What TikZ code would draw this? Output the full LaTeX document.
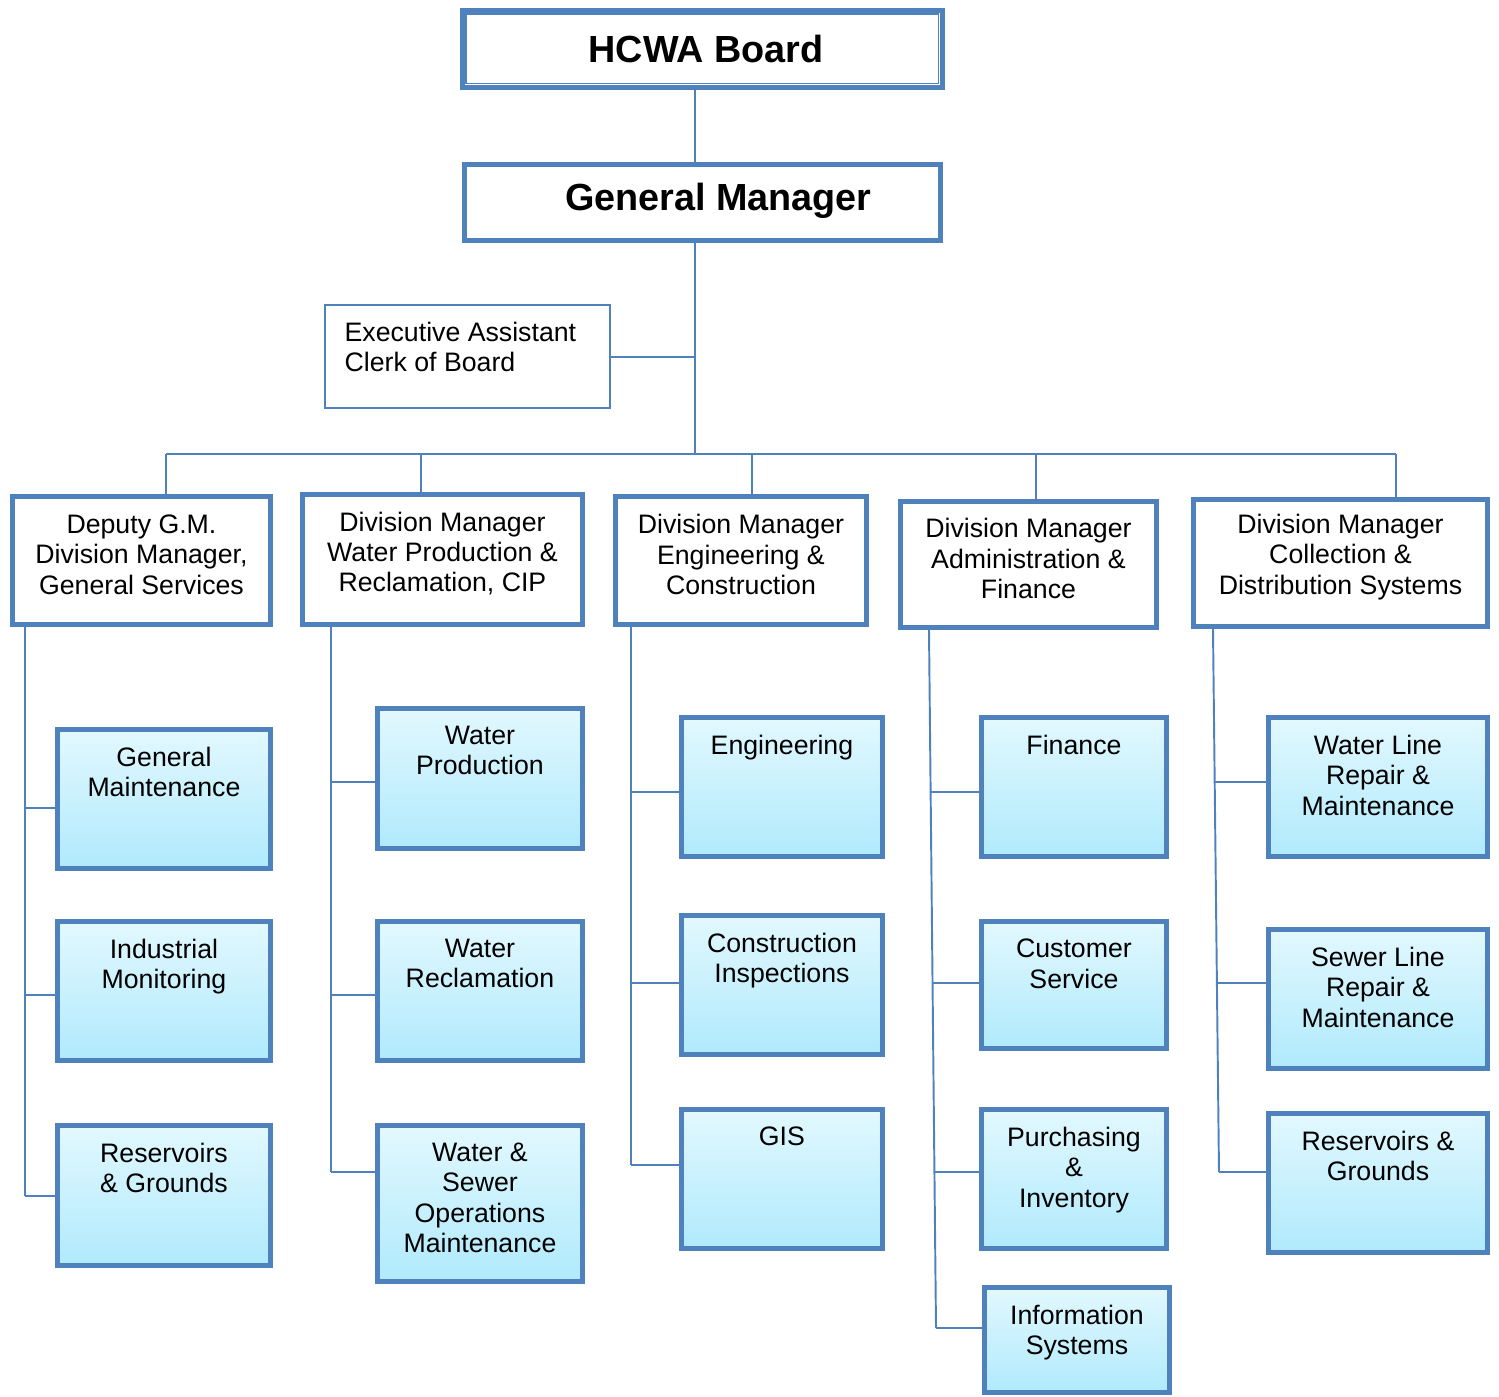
\documentclass[tikz,border=0pt]{standalone}
\usepackage{fontspec}
\setmainfont{Liberation Sans}
\definecolor{boxblue}{RGB}{79,129,189}
\definecolor{leaftop}{RGB}{226,248,254}
\definecolor{leafbot}{RGB}{176,234,252}

\begin{document}
\begin{tikzpicture}[x=0.02cm,y=-0.02cm,
    boxsize/.style 2 args={minimum width=(#1-5)*0.02cm,minimum height=(#2-5)*0.02cm},
    link/.style={draw=boxblue,line width=1.1pt},
    head/.style={draw=boxblue,line width=2.8pt,fill=white,anchor=north west},
    headtext/.style={anchor=center,font=\bfseries\fontsize{21.5}{25}\selectfont},
    manager/.style={draw=boxblue,line width=2.8pt,fill=white,anchor=north west},
    mantext/.style={anchor=center,align=center,yshift=3.4pt,
      font=\fontsize{15.2}{17.3}\selectfont},
    leaf/.style={draw=boxblue,line width=2.8pt,top color=leaftop,bottom color=leafbot,
      anchor=north west},
    caption/.style={anchor=north,align=center,yshift=-7.9pt,
      font=\fontsize{15.2}{17.3}\selectfont}]
  \useasboundingbox (0,0) rectangle (1499,1397);

  % top of the chart
  \node[head,boxsize={485}{82},label={[headtext,xshift=2pt]center:HCWA Board}] (board) at (460,8) {};
  \draw[boxblue,line width=0.6pt] ([shift={(6,6)}]board.north west)
    rectangle ([shift={(-6,-6)}]board.south east);
  \node[head,boxsize={481}{81},label={[headtext,xshift=9pt,yshift=1pt]center:General Manager}] (gm) at (462,162) {};
  \node[draw=boxblue,line width=1.2pt,anchor=north west,boxsize={290}{108},
    label={[anchor=north west,align=left,xshift=8.2pt,yshift=-6.7pt,
      font=\fontsize{15.2}{17.3}\selectfont]north west:Executive Assistant\\Clerk of Board}]
    (exec) at (324,304) {};

  % division managers
  \node[manager,boxsize={263}{133},
    label={[mantext]center:Deputy G.M.\\Division Manager,\\General Services}] (deputy) at (10,494) {};
  \node[manager,boxsize={285}{135},
    label={[mantext]center:Division Manager\\Water Production \&\\Reclamation, CIP}] (dmwater) at (300,492) {};
  \node[manager,boxsize={256}{133},
    label={[mantext]center:Division Manager\\Engineering \&\\Construction}] (dmeng) at (613,494) {};
  \node[manager,boxsize={261}{131},
    label={[mantext]center:Division Manager\\Administration \&\\Finance}] (dmadmin) at (898,499) {};
  \node[manager,boxsize={299}{132},
    label={[mantext]center:Division Manager\\Collection \&\\Distribution Systems}] (dmcoll) at (1191,497) {};

  % units
  \node[leaf,boxsize={218}{144},label={[caption]north:General\\Maintenance}] (genmaint) at (55,727) {};
  \node[leaf,boxsize={218}{144},label={[caption]north:Industrial\\Monitoring}] (indmon) at (55,919) {};
  \node[leaf,boxsize={218}{145},label={[caption]north:Reservoirs\\\& Grounds}] (resvA) at (55,1123) {};
  \node[leaf,boxsize={210}{145},label={[caption]north:Water\\Production}] (waterprod) at (375,706) {};
  \node[leaf,boxsize={210}{144},label={[caption]north:Water\\Reclamation}] (waterrecl) at (375,919) {};
  \node[leaf,boxsize={210}{161},label={[caption]north:Water \&\\Sewer\\Operations\\Maintenance}] (wsom) at (375,1123) {};
  \node[leaf,boxsize={206}{144},label={[caption]north:Engineering}] (engin) at (679,715) {};
  \node[leaf,boxsize={206}{144},label={[caption]north:Construction\\Inspections}] (constr) at (679,913) {};
  \node[leaf,boxsize={206}{144},label={[caption]north:GIS}] (gis) at (679,1107) {};
  \node[leaf,boxsize={190}{144},label={[caption]north:Finance}] (finance) at (979,715) {};
  \node[leaf,boxsize={190}{132},label={[caption]north:Customer\\Service}] (custserv) at (979,919) {};
  \node[leaf,boxsize={190}{144},label={[caption]north:Purchasing\\\&\\Inventory}] (purch) at (979,1107) {};
  \node[leaf,boxsize={190}{110},label={[caption]north:Information\\Systems}] (infosys) at (982,1285) {};
  \node[leaf,boxsize={224}{144},label={[caption]north:Water Line\\Repair \&\\Maintenance}] (waterline) at (1266,715) {};
  \node[leaf,boxsize={224}{144},label={[caption]north:Sewer Line\\Repair \&\\Maintenance}] (sewerline) at (1266,927) {};
  \node[leaf,boxsize={224}{144},label={[caption]north:Reservoirs \&\\Grounds}] (resvB) at (1266,1111) {};

  % trunk and bus
  \coordinate (spine) at (695,454);
  \coordinate (bA) at (166,454);
  \coordinate (bB) at (421,454);
  \coordinate (bC) at (752,454);
  \coordinate (bD) at (1036,454);
  \coordinate (bE) at (1396,454);
  \draw[link] (board.south -| spine) -- (gm.north -| spine);
  \draw[link] (gm.south -| spine) -- (spine);
  \draw[link] (exec.east) -- (exec.east -| spine);
  \draw[link] (bA) -- (bE);
  \foreach \b/\m in {bA/deputy,bB/dmwater,bC/dmeng,bD/dmadmin,bE/dmcoll}
    \draw[link] (\b) -- (\b |- \m.north);

  % branch points
  \coordinate (a1) at (25,808);
  \coordinate (a2) at (25,995);
  \coordinate (a3) at (25,1196);
  \coordinate (w1) at (331,782);
  \coordinate (w2) at (331,995);
  \coordinate (w3) at (331,1172);
  \coordinate (c1) at (631,792);
  \coordinate (c2) at (631,983);
  \coordinate (c3) at (631,1165);
  \coordinate (d0) at (929,630);
  \coordinate (d1) at (930.5,792);
  \coordinate (d2) at (932.5,983);
  \coordinate (d3) at (934.5,1172);
  \coordinate (d4) at (936,1328);
  \coordinate (e0) at (1213,629);
  \coordinate (e1) at (1214.7,782);
  \coordinate (e2) at (1216.9,983);
  \coordinate (e3) at (1219,1172);

  \draw[link] (deputy.south -| a1) -- (a3);
  \draw[link] (dmwater.south -| w1) -- (w3);
  \draw[link] (dmeng.south -| c1) -- (c3);
  \draw[link] (d0) -- (d4);
  \draw[link] (e0) -- (e3);
  \foreach \p/\u in {a1/genmaint,a2/indmon,a3/resvA,w1/waterprod,w2/waterrecl,w3/wsom,
      c1/engin,c2/constr,c3/gis,d1/finance,d2/custserv,d3/purch,d4/infosys,
      e1/waterline,e2/sewerline,e3/resvB}
    \draw[link] (\p) -- (\p -| \u.west);
\end{tikzpicture}
\end{document}
